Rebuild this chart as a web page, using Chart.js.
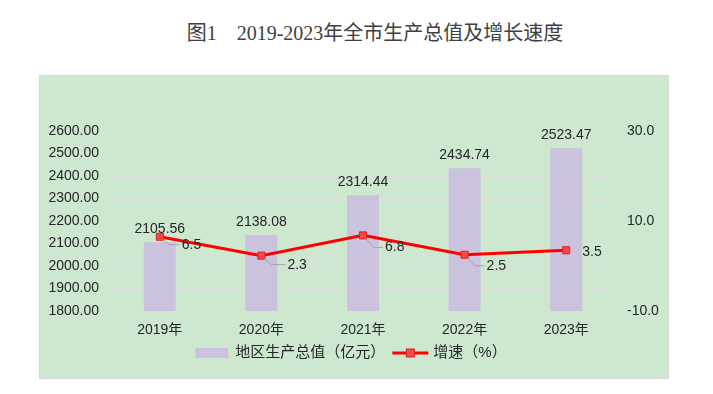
<!DOCTYPE html>
<html>
<head>
<meta charset="utf-8">
<script src="https://cdn.jsdelivr.net/npm/chart.js@4/dist/chart.umd.min.js"></script>
<style>
  html, body { margin: 0; padding: 0; background: #ffffff; }
  body { width: 713px; height: 394px; position: relative; overflow: hidden; }
  #title {
    position: absolute; left: 0; top: 20px; width: 750px; text-align: center;
    font-family: "Liberation Serif", "Noto Sans CJK SC", serif; font-size: 20px;
    color: #404040; line-height: 26px; white-space: pre;
  }
  #box {
    position: absolute; left: 40px; top: 76px; width: 628px; height: 302px;
    background: #cde8cf; outline: 1px solid #d9d9d9;
  }
  canvas { display: block; }
</style>
</head>
<body>
<div id="title">图1　2019-2023年全市生产总值及增长速度</div>
<div id="box"><canvas id="c" width="628" height="302"></canvas></div>
<script>
// ---- data ----
const categories = ["2019年", "2020年", "2021年", "2022年", "2023年"];
const gdpValues = [2105.56, 2138.08, 2314.44, 2434.74, 2523.47];
const growthValues = [6.5, 2.3, 6.8, 2.5, 3.5];
const gdpLabel = "地区生产总值（亿元）";
const growthLabel = "增速（%）";
const leftTicks = { min: 1800, max: 2600, step: 100 };
const rightTicks = { min: -10, max: 30, step: 20 };

// label placement styles for growth values (offset from point)
const growthLabelOffsets = [[22, 8], [26, 9], [22, 12], [22, 11], [16, 2]];
const growthLeader = [true, true, true, true, false];

const FONT = '"Liberation Sans", "Noto Sans CJK SC", sans-serif';
const TEXT = '#262626';
const BAR = '#cbc3dd';
const RED = '#ff0000';
const MARK = '#f24a4a';

const labelPlugin = {
  id: 'labels',
  afterDatasetsDraw(chart) {
    const ctx = chart.ctx;
    ctx.save();
    ctx.font = '14px ' + FONT;
    ctx.fillStyle = TEXT;
    // bar value labels
    const barMeta = chart.getDatasetMeta(1);
    ctx.textAlign = 'center';
    ctx.textBaseline = 'bottom';
    barMeta.data.forEach((el, i) => {
      ctx.fillText(gdpValues[i].toFixed(2), el.x, el.y - 6);
    });
    // growth labels
    const lineMeta = chart.getDatasetMeta(0);
    ctx.textAlign = 'left';
    ctx.textBaseline = 'middle';
    lineMeta.data.forEach((el, i) => {
      const [dx, dy] = growthLabelOffsets[i];
      const lx = el.x + dx, ly = el.y + dy;
      if (growthLeader[i]) {
        ctx.strokeStyle = '#a6a6a6';
        ctx.lineWidth = 1;
        ctx.beginPath();
        ctx.moveTo(el.x + 3, el.y + 3);
        ctx.lineTo(el.x + 10, ly);
        ctx.lineTo(lx - 2, ly);
        ctx.stroke();
      }
      ctx.fillStyle = TEXT;
      ctx.fillText(growthValues[i].toFixed(1), lx, ly);
    });
    ctx.restore();
  },
  afterDraw(chart) {
    // custom legend
    const ctx = chart.ctx;
    ctx.save();
    ctx.font = '15px ' + FONT;
    const w1 = ctx.measureText(gdpLabel).width;
    const w2 = ctx.measureText(growthLabel).width;
    const boxW = 33, lineW = 36, gap = 7, sep = 7;
    const total = boxW + gap + w1 + sep + lineW + 5 + w2;
    let x = (chart.width - total) / 2 - 3;
    const y = 277;
    ctx.fillStyle = BAR;
    ctx.fillRect(x, y - 5, boxW, 10);
    x += boxW + gap;
    ctx.fillStyle = TEXT;
    ctx.textAlign = 'left';
    ctx.textBaseline = 'middle';
    ctx.fillText(gdpLabel, x, y);
    x += w1 + sep;
    ctx.strokeStyle = RED;
    ctx.lineWidth = 3;
    ctx.beginPath();
    ctx.moveTo(x, y);
    ctx.lineTo(x + lineW, y);
    ctx.stroke();
    ctx.fillStyle = MARK;
    ctx.strokeStyle = '#e02020';
    ctx.lineWidth = 1;
    ctx.fillRect(x + lineW / 2 - 4, y - 4, 8, 8);
    ctx.strokeRect(x + lineW / 2 - 4, y - 4, 8, 8);
    x += lineW + 5;
    ctx.fillStyle = TEXT;
    ctx.fillText(growthLabel, x, y);
    ctx.restore();
  }
};

new Chart(document.getElementById('c'), {
  data: {
    labels: categories,
    datasets: [
      {
        type: 'line', label: growthLabel, data: growthValues, yAxisID: 'y1', order: 0,
        borderColor: RED, borderWidth: 3, tension: 0,
        pointStyle: 'rect', pointRadius: 5, pointBackgroundColor: MARK,
        pointBorderColor: '#e02020', pointBorderWidth: 1
      },
      {
        type: 'bar', label: gdpLabel, data: gdpValues, yAxisID: 'y', order: 1,
        backgroundColor: BAR, categoryPercentage: 1, barPercentage: 0.315
      }
    ]
  },
  options: {
    responsive: false, animation: false, devicePixelRatio: 1,
    layout: { padding: { top: 55, left: 0, right: 0, bottom: 0 } },
    plugins: { legend: { display: false }, tooltip: { enabled: false }, title: { display: false } },
    scales: {
      x: {
        offset: true,
        grid: { display: false, drawTicks: false },
        border: { display: false },
        ticks: { color: TEXT, font: { family: FONT, size: 14 }, padding: 11 },
        afterFit(s) { s.height = 67; }
      },
      y: {
        position: 'left', min: leftTicks.min, max: leftTicks.max,
        grid: { color: '#dcdedc', lineWidth: 1, drawTicks: false },
        border: { display: false },
        ticks: { stepSize: leftTicks.step, color: TEXT, font: { family: FONT, size: 14 }, padding: 10,
          callback: v => Number(v).toFixed(2) },
        afterFit(s) { s.width = 69; }
      },
      y1: {
        position: 'right', min: rightTicks.min, max: rightTicks.max,
        grid: { display: false, drawTicks: false },
        border: { display: false },
        ticks: { stepSize: rightTicks.step, color: TEXT, font: { family: FONT, size: 14 }, padding: 10,
          callback: v => Number(v).toFixed(1) },
        afterFit(s) { s.width = 51; }
      }
    }
  },
  plugins: [labelPlugin]
});
</script>
</body>
</html>
